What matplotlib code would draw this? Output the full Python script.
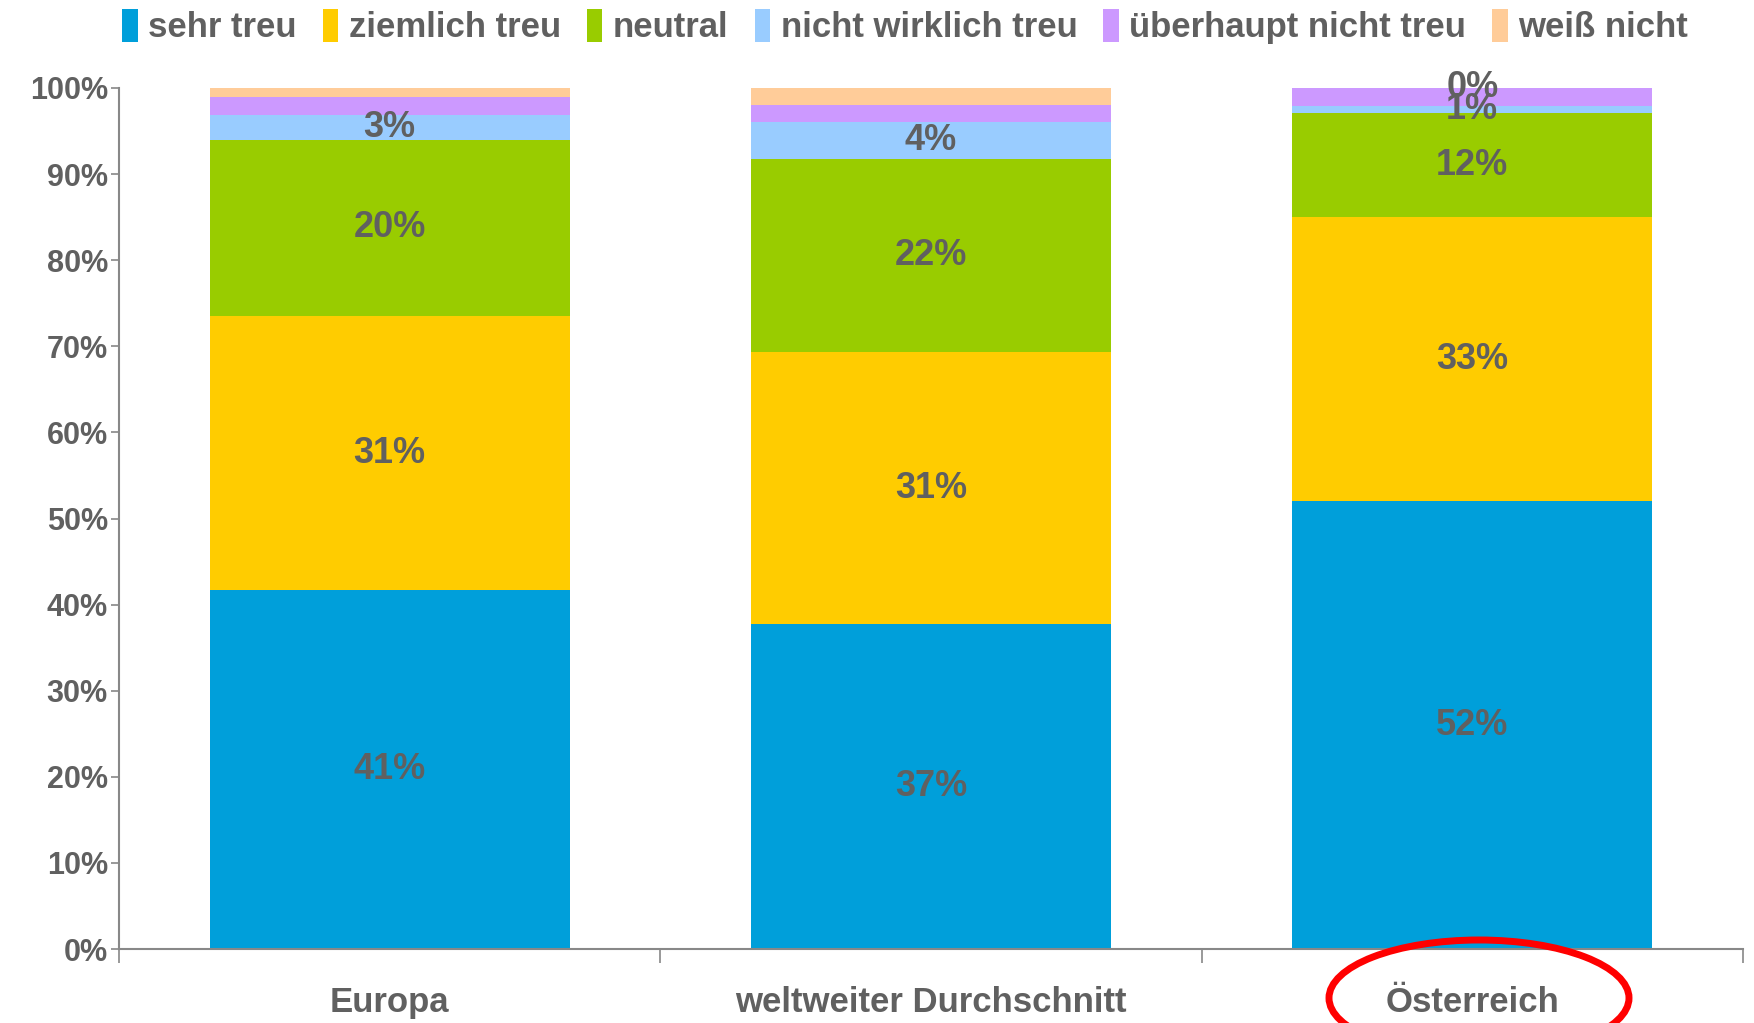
import matplotlib.pyplot as plt
import numpy as np
from matplotlib.patches import Ellipse

# --- Daten ---
kategorien = ["Europa", "weltweiter Durchschnitt", "Österreich"]
serien = ["sehr treu", "ziemlich treu", "neutral", "nicht wirklich treu",
          "überhaupt nicht treu", "weiß nicht"]
farben = ["#009FDA", "#FFCC00", "#99CC00", "#99CCFF", "#CC99FF", "#FFCC99"]

sehr_treu = [41.7, 37.7, 52.0]
ziemlich_treu = [31.8, 31.6, 33.0]
neutral = [20.5, 22.5, 12.1]
nicht_wirklich = [2.9, 4.2, 0.8]
ueberhaupt_nicht = [2.0, 2.0, 2.1]
weiss_nicht = [1.1, 2.0, 0.0]

# Beschriftungen wie im Original (None = keine Beschriftung)
labels = [
    ["41%", "37%", "52%"],
    ["31%", "31%", "33%"],
    ["20%", "22%", "12%"],
    ["3%", "4%", "1%"],
    [None, None, None],
    [None, None, "0%"],
]

werte = [sehr_treu, ziemlich_treu, neutral, nicht_wirklich, ueberhaupt_nicht, weiss_nicht]

grau = "#606060"
schrift = ["Liberation Sans", "DejaVu Sans"]

fig = plt.figure(figsize=(17.54, 10.23), dpi=100)
ax = fig.add_axes([0.0678, 0.0723, 0.9259, 0.8417])

x = np.arange(len(kategorien))
bottom = np.zeros(len(kategorien))
for name, vals, col, labs in zip(serien, werte, farben, labels):
    vals = np.array(vals)
    ax.bar(x, vals, 0.665, bottom=bottom, color=col, label=name, linewidth=0)
    for xi, b, v, lab in zip(x, bottom, vals, labs):
        if lab is not None:
            ax.text(xi, b + v / 2, lab, ha="center", va="center", fontsize=26,
                    fontweight="bold", color=grau, family=schrift)
    bottom += vals

ax.set_xlim(-0.5, 2.5)
ax.set_ylim(0, 100)
ax.set_yticks(np.arange(0, 101, 10))
ax.set_yticklabels([f"{v}%" for v in range(0, 101, 10)], fontsize=22,
                   fontweight="bold", color=grau, family=schrift)
ax.set_xticks([-0.5, 0.5, 1.5, 2.5])
ax.set_xticklabels([])
ax.tick_params(axis="x", length=10, width=1.2, color="#888888", direction="out")
ax.tick_params(axis="y", length=6, width=1.2, color="#888888", pad=2)
for s in ["top", "right"]:
    ax.spines[s].set_visible(False)
for s in ["left", "bottom"]:
    ax.spines[s].set_color("#888888")
    ax.spines[s].set_linewidth(1.5)

for xi, k in zip(x, kategorien):
    ax.text(xi, -6.2, k, ha="center", va="center", fontsize=25, fontweight="bold",
            color=grau, family=schrift, clip_on=False)

# roter Kreis um Österreich
ell = Ellipse((1479 / 1754, 1 - 998 / 1023), 300 / 1754, 116 / 1023,
              transform=fig.transFigure, fill=False, edgecolor="#FF0000",
              linewidth=5, clip_on=False)
fig.patches.append(ell)

leg = fig.legend(loc="upper center", bbox_to_anchor=(0.516, 1.022), ncol=6,
                 frameon=False, handlelength=0.45, handleheight=1.1,
                 handletextpad=0.3, columnspacing=0.75,
                 prop={"family": schrift, "size": 25, "weight": "bold"})
for t in leg.get_texts():
    t.set_color(grau)

fig.savefig("out.png", dpi=100)
